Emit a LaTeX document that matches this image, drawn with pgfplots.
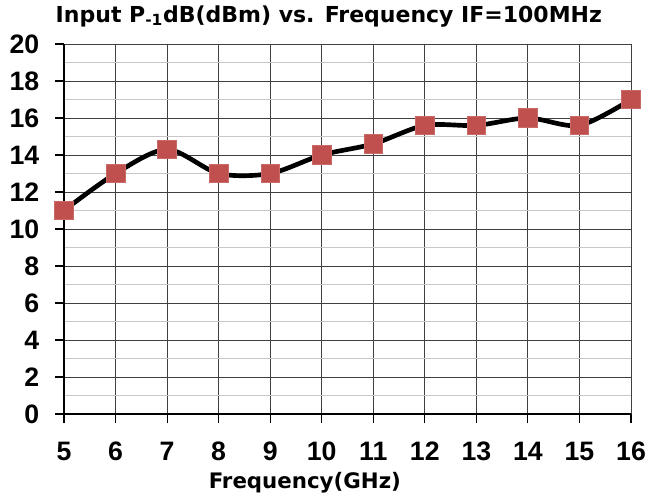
\documentclass[border=0pt]{standalone}
\usepackage{fontspec}
\setmainfont{Liberation Sans}
\newfontfamily\titlefont{DejaVu Sans}
\usepackage{pgfplots}
\pgfplotsset{compat=1.18}
\definecolor{mk}{HTML}{C0504D}
\begin{document}
\begin{tikzpicture}
\useasboundingbox (-48pt,-61.5pt) rectangle (438.75pt,310.5pt);
\begin{axis}[
  at={(0,0)}, anchor=south west,
  scale only axis,
  width=425.25pt, height=277.5pt,
  xmin=5, xmax=16, ymin=0, ymax=20,
  xtick={5,...,16}, ytick={0,2,...,20},
  minor ytick={1,3,...,19},
  grid=both,
  major grid style={black!75, line width=0.7pt},
  minor grid style={black!22, line width=0.9pt},
  axis line style={black, line width=0.9pt},
  tick style={black, line width=0.8pt},
  tick align=outside,
  major tick length=6.5pt,
  minor tick length=0pt,
  axis x line*=bottom, axis y line*=left,
  xticklabel={\pgfmathprintnumber[assume math mode=true]{\tick}},
  yticklabel={\pgfmathprintnumber[assume math mode=true]{\tick}},
  ticklabel style={font=\fontsize{20}{20}\selectfont\bfseries},
  xticklabel style={anchor=north, yshift=-11pt},
  yticklabel style={anchor=east, xshift=-8.5pt},
  title={\titlefont\bfseries Input P\textsubscript{-1}dB(dBm) vs. Frequency IF=100MHz},
  title style={font=\fontsize{16.5}{17}\selectfont, at={(0.5,1)}, anchor=south, xshift=-14pt, yshift=3pt},
  xlabel={\titlefont\bfseries Frequency(GHz)},
  xlabel style={font=\fontsize{16}{17}\selectfont, xshift=-32pt, yshift=-2pt},
  clip=false,
]
\addplot[black, line width=3.5pt, smooth, tension=0.5, mark=square*, mark size=7pt,
  mark options={fill=mk, draw=mk!85!white, line width=0.5pt}]
coordinates {
(5,11) (6,13) (7,14.3) (8,13) (9,13) (10,14) (11,14.6) (12,15.6) (13,15.6) (14,16) (15,15.6) (16,17)
};
\end{axis}
\end{tikzpicture}
\end{document}
